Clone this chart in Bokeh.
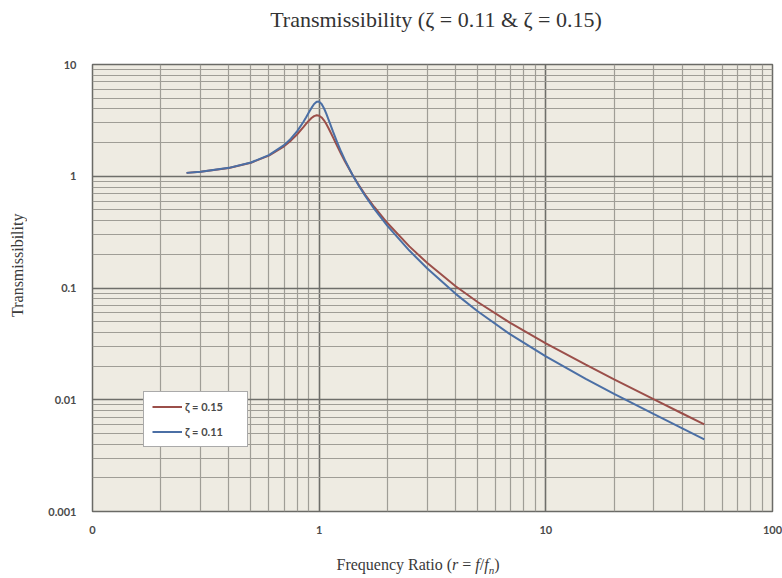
from bokeh.plotting import figure
from bokeh.layouts import column, row
from bokeh.models import FixedTicker, Legend, LegendItem, Range1d, Div
from bokeh.embed import file_html
from bokeh.resources import INLINE

# Frequency ratio r and transmissibility
r = [0.26, 0.3, 0.4, 0.5, 0.6, 0.7, 0.75, 0.8, 0.85, 0.875, 0.9, 0.925,
     0.95, 0.975, 1.0, 1.025, 1.05, 1.075, 1.1, 1.15, 1.2, 1.25, 1.3, 1.4,
     1.5, 1.6, 1.75, 2.0, 2.5, 3.0, 4.0, 5.0, 7.0, 10.0, 15.0, 20.0, 30.0,
     40.0, 50.0]
t_015 = [1.072, 1.098, 1.187, 1.322, 1.528, 1.853, 2.084, 2.377, 2.738, 2.938,
         3.137, 3.318, 3.452, 3.512, 3.480, 3.357, 3.165, 2.934, 2.692, 2.240,
         1.870, 1.580, 1.354, 1.035, 0.8254, 0.6796, 0.5307, 0.3812, 0.2357,
         0.1671, 0.1038, 0.07497, 0.04841, 0.03193, 0.02058, 0.01524, 0.01007,
         0.007531, 0.006015]
t_011 = [1.072, 1.098, 1.189, 1.327, 1.544, 1.899, 2.168, 2.534, 3.040, 3.358,
         3.715, 4.090, 4.430, 4.647, 4.654, 4.436, 4.061, 3.630, 3.211, 2.517,
         2.016, 1.656, 1.393, 1.038, 0.8145, 0.6629, 0.5107, 0.3603, 0.2162,
         0.1493, 0.08865, 0.06188, 0.03823, 0.02440, 0.01539, 0.01131,
         0.007425, 0.005539, 0.004421]

series_labels = ["\u03b6 = 0.15", "\u03b6 = 0.11"]
title_text = "Transmissibility (\u03b6 = 0.11 &amp; \u03b6 = 0.15)"
y_title = "Transmissibility"
x_title_html = ("Frequency Ratio (<i>r</i> = <i>f</i>/<i>f</i>"
                "<sub style='font-size:11px'><i>n</i></sub>)")

x_major = [0.1, 1, 10, 100]
x_tick_labels = ["0", "1", "10", "100"]
y_major = [0.001, 0.01, 0.1, 1, 10]
y_tick_labels = ["0.001", "0.01", "0.1", "1", "10"]
x_minor = [m * d for d in (0.1, 1, 10) for m in range(2, 10)]
y_minor = [m * d for d in (0.001, 0.01, 0.1, 1) for m in range(2, 10)]

SERIF = "Liberation Serif"
SANS = "Lato"
RED = "#9b4f4a"
BLUE = "#4b6fa5"
TXT = "#3a3a3a"

title_div = Div(text=title_text, width=692, height=44, margin=(0, 0, 0, 90),
                styles={"font-family": SERIF, "font-size": "22px",
                        "color": "#333333", "text-align": "center",
                        "line-height": "26px", "padding-top": "7px",
                        "box-sizing": "border-box"})

ylabel_div = Div(text=y_title, width=36, height=442, margin=(0, 0, 0, 0),
                 styles={"font-family": SERIF, "font-size": "16px",
                         "color": TXT, "text-align": "center",
                         "line-height": "36px", "writing-mode": "vertical-rl",
                         "transform": "rotate(180deg)",
                         "white-space": "nowrap"})

p = figure(width=746, height=494, x_axis_type="log", y_axis_type="log",
           x_range=Range1d(0.1, 100), y_range=Range1d(0.001, 10),
           output_backend="svg", toolbar_location=None,
           min_border_left=56, min_border_right=10, min_border_top=20,
           min_border_bottom=27, margin=(0, 0, 0, 0))

p.background_fill_color = "#eeebe2"
p.border_fill_color = "white"
p.outline_line_color = "#6a6a66"
p.outline_line_width = 1.5

p.xaxis.ticker = FixedTicker(ticks=x_major, minor_ticks=x_minor)
p.yaxis.ticker = FixedTicker(ticks=y_major, minor_ticks=y_minor)
p.xaxis.major_label_overrides = dict(zip(x_major, x_tick_labels))
p.yaxis.major_label_overrides = dict(zip(y_major, y_tick_labels))

for ax in (p.xaxis, p.yaxis):
    ax.axis_line_color = None
    ax.major_tick_line_color = None
    ax.minor_tick_line_color = None
    ax.major_label_text_font = SANS
    ax.major_label_text_font_size = "11px"
    ax.major_label_text_font_style = "bold"
    ax.major_label_text_color = "#4a4a4a"
p.yaxis.major_label_standoff = 10
p.xaxis.major_label_standoff = 8

for g in (p.xgrid, p.ygrid):
    g.grid_line_color = "#6e6e6a"
    g.grid_line_width = 1.6
    g.grid_line_alpha = 1.0
    g.minor_grid_line_color = "#9f9d96"
    g.minor_grid_line_width = 1.2
    g.minor_grid_line_alpha = 1.0

l1 = p.line(r, t_015, line_color=RED, line_width=2)
l2 = p.line(r, t_011, line_color=BLUE, line_width=2)

legend = Legend(items=[LegendItem(label=series_labels[0], renderers=[l1]),
                       LegendItem(label=series_labels[1], renderers=[l2])],
                location=(51, 64))
legend.background_fill_color = "white"
legend.background_fill_alpha = 1.0
legend.border_line_color = "#555555"
legend.border_line_width = 1.5
legend.label_text_font = SANS
legend.label_text_font_size = "11px"
legend.label_text_font_style = "bold"
legend.label_text_color = "#4a4a4a"
legend.glyph_width = 30
legend.glyph_height = 13
legend.label_height = 13
legend.label_width = 54
legend.label_standoff = 3
legend.spacing = 12
legend.padding = 8
legend.margin = 0
p.add_layout(legend)

xlabel_div = Div(text=x_title_html, width=700, height=40, margin=(0, 0, 0, 68),
                 styles={"font-family": SERIF, "font-size": "16px",
                         "color": TXT, "text-align": "center",
                         "line-height": "20px", "padding-top": "17px",
                         "box-sizing": "border-box"})

page = column(title_div, row(ylabel_div, p, spacing=0, margin=(0, 0, 0, 0)),
              xlabel_div, spacing=0, margin=(0, 0, 0, 0))

open("out.html", "w").write(file_html(page, INLINE))
